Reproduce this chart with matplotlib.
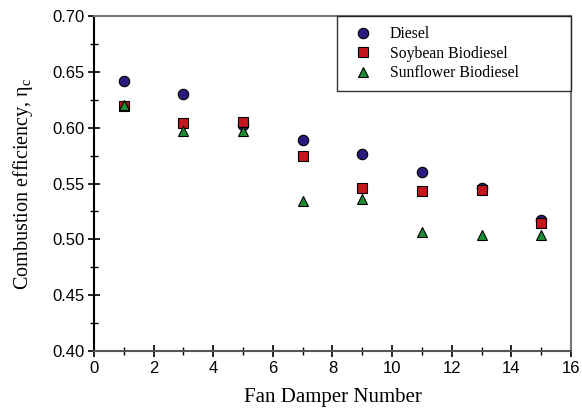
import matplotlib
matplotlib.use("Agg")
import matplotlib.pyplot as plt
from matplotlib.ticker import MultipleLocator, FormatStrFormatter

damper = [1, 3, 5, 7, 9, 11, 13, 15]
diesel = [0.642, 0.630, 0.602, 0.589, 0.576, 0.560, 0.546, 0.517]
soybean = [0.619, 0.604, 0.605, 0.575, 0.546, 0.543, 0.544, 0.515]
sunflower = [0.620, 0.597, 0.597, 0.534, 0.536, 0.507, 0.504, 0.504]

fig = plt.figure(figsize=(5.82, 4.11), dpi=100)
ax = fig.add_axes([0.1615, 0.146, 0.8195, 0.815])

ax.plot(damper, diesel, 'o', ms=7.5, mfc='#2a1a7e', mec='black', mew=0.8, label='Diesel')
ax.plot(damper, soybean, 's', ms=6.5, mfc='#c4161c', mec='black', mew=0.8, label='Soybean Biodiesel')
ax.plot(damper, sunflower, '^', ms=7.5, mfc='#1f8b32', mec='black', mew=0.8, label='Sunflower Biodiesel')

ax.set_xlim(0, 16)
ax.set_ylim(0.40, 0.70)
ax.xaxis.set_major_locator(MultipleLocator(2))
ax.xaxis.set_minor_locator(MultipleLocator(1))
ax.yaxis.set_major_locator(MultipleLocator(0.05))
ax.yaxis.set_minor_locator(MultipleLocator(0.025))
ax.yaxis.set_major_formatter(FormatStrFormatter('%.2f'))

ax.tick_params(which='major', direction='inout', length=8, width=1.2, labelsize=12, pad=3)
ax.tick_params(which='minor', direction='inout', length=6, width=1.0)
for lab in ax.get_xticklabels() + ax.get_yticklabels():
    lab.set_family('Liberation Sans')

ax.spines['left'].set_color('black')
ax.spines['bottom'].set_color('#555555')
ax.spines['top'].set_color('#777777')
ax.spines['right'].set_color('#777777')
for s in ax.spines.values():
    s.set_linewidth(1.5)

ax.set_xlabel('Fan Damper Number', family='Liberation Serif', fontsize=15, labelpad=9)
ax.set_ylabel(r'Combustion efficiency, $\mathregular{\eta_c}$', family='Liberation Serif', fontsize=14.5, labelpad=12)

leg = ax.legend(loc='upper right', prop={'family': 'Liberation Serif', 'size': 11.3},
                bbox_to_anchor=(0.5094, 0.773, 0.4906, 0.227), mode='expand',
                frameon=True, fancybox=False, borderaxespad=0, handletextpad=0.7,
                borderpad=0.65, labelspacing=0.22)
leg.get_frame().set_edgecolor('black')
leg.get_frame().set_linewidth(1.0)

fig.savefig('out.png', dpi=100)
